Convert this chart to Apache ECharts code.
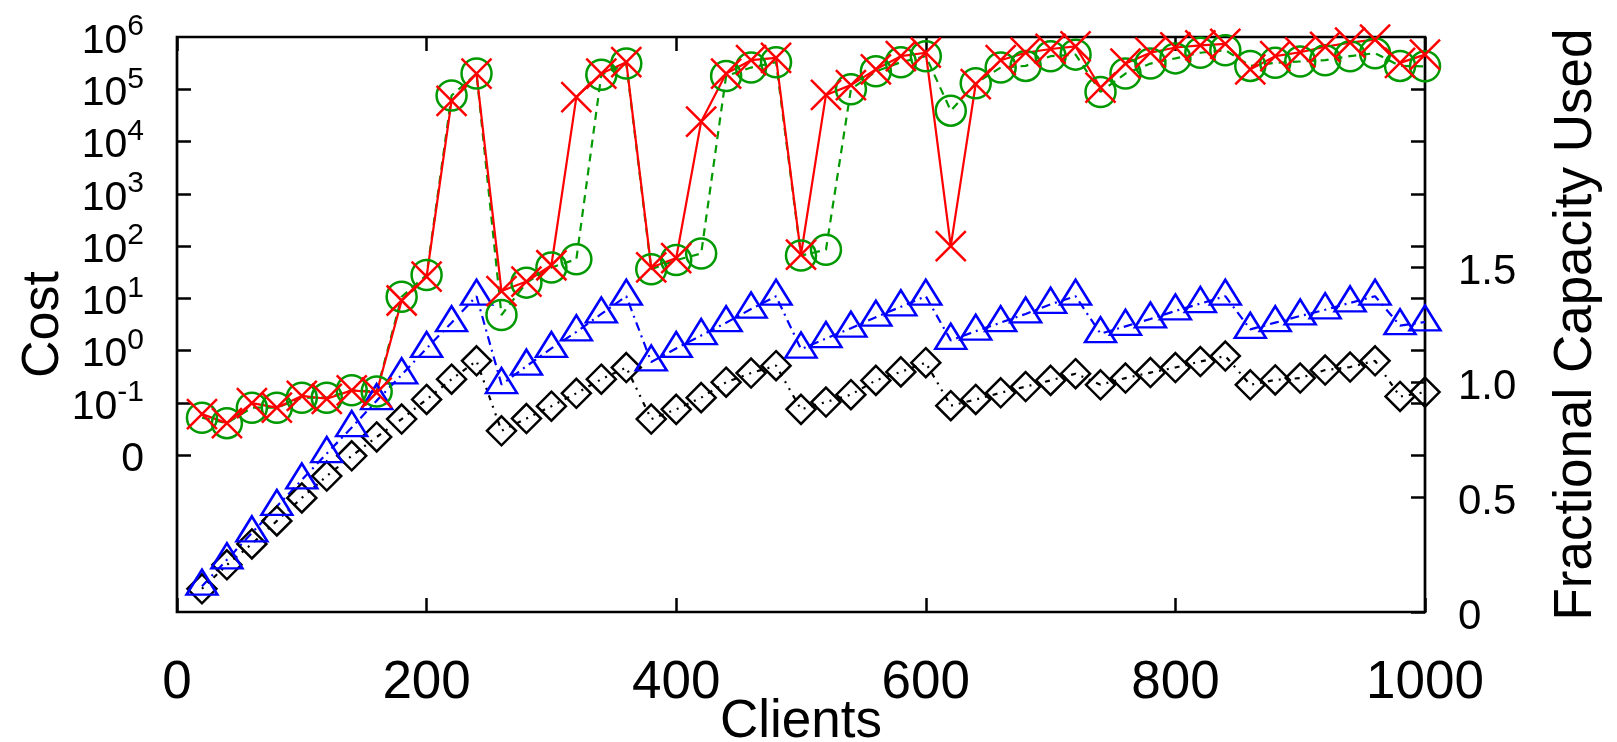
<!DOCTYPE html>
<html>
<head>
<meta charset="utf-8">
<script src="https://cdn.jsdelivr.net/npm/echarts@6/dist/echarts.min.js"></script>
<style>
  html, body { margin: 0; padding: 0; background: #fff; }
  #chart { width: 1617px; height: 742px; }
</style>
</head>
<body>
<div id="chart"></div>
<script>
// Number of clients at each measurement
const clients = [20, 40, 60, 80, 100, 120, 140, 160, 180, 200,
                 220, 240, 260, 280, 300, 320, 340, 360, 380, 400,
                 420, 440, 460, 480, 500, 520, 540, 560, 580, 600,
                 620, 640, 660, 680, 700, 720, 740, 760, 780, 800,
                 820, 840, 860, 880, 900, 920, 940, 960, 980, 1000];

// Cost (left axis, log scale)
const costSolid = [0.061, 0.041, 0.099, 0.081, 0.136, 0.12, 0.174, 0.158, 9.1, 26,
                   6.0e4, 2.0e5, 13.8, 21, 43, 7.1e4, 2.0e5, 3.3e5, 39, 59,
                   2.4e4, 2.0e5, 3.6e5, 4.0e5, 69, 7.8e4, 1.2e5, 2.4e5, 4.3e5, 5.0e5,
                   100, 1.26e5, 3.6e5, 5.0e5, 5.9e5, 6.6e5, 1.07e5, 3.1e5, 5.0e5, 6.3e5,
                   6.9e5, 7.4e5, 2.4e5, 4.3e5, 5.1e5, 6.5e5, 7.8e5, 8.9e5, 3.2e5, 4.6e5];
const costDashed = [0.052, 0.041, 0.081, 0.081, 0.126, 0.126, 0.174, 0.166, 10.7, 28,
                    7.6e4, 2.0e5, 4.8, 20, 39, 56, 1.9e5, 3.1e5, 36, 54,
                    72, 1.8e5, 2.6e5, 3.3e5, 66, 85, 1.0e5, 2.2e5, 3.3e5, 4.3e5,
                    3.9e4, 1.3e5, 2.6e5, 2.8e5, 4.3e5, 4.6e5, 8.9e4, 2.0e5, 3.1e5, 3.9e5,
                    5.0e5, 5.6e5, 2.8e5, 3.2e5, 3.4e5, 3.6e5, 4.3e5, 4.9e5, 2.8e5, 2.75e5];

// Fractional capacity used (right axis)
const capacityDashDot = [0.112, 0.227, 0.344, 0.459, 0.574, 0.689, 0.802, 0.919, 1.031, 1.146,
                         1.258, 1.373, 0.989, 1.069, 1.146, 1.218, 1.296, 1.373, 1.087, 1.146,
                         1.202, 1.258, 1.317, 1.373, 1.143, 1.189, 1.234, 1.282, 1.327, 1.373,
                         1.181, 1.221, 1.258, 1.296, 1.338, 1.373, 1.210, 1.242, 1.274, 1.309,
                         1.341, 1.373, 1.229, 1.258, 1.287, 1.314, 1.344, 1.373, 1.245, 1.261];
const capacityDotted = [0.101, 0.205, 0.296, 0.396, 0.496, 0.591, 0.679, 0.761, 0.839, 0.924,
                        1.012, 1.092, 0.788, 0.841, 0.895, 0.951, 1.012, 1.063, 0.839, 0.881,
                        0.932, 0.999, 1.039, 1.071, 0.881, 0.913, 0.945, 1.007, 1.044, 1.084,
                        0.897, 0.924, 0.953, 0.980, 1.007, 1.036, 0.988, 1.017, 1.041, 1.063,
                        1.089, 1.113, 0.988, 1.009, 1.017, 1.052, 1.065, 1.092, 0.937, 0.956];

// Axis ranges and tick positions
const COST_MIN = 1e-5, COST_MAX = 1e6;
const CAP_MIN = 0, CAP_MAX = 2.5;
const costTickValues = [0.01, 0.1, 1, 10, 100, 1e3, 1e4, 1e5];
const costLabelValues = [0.01, 0.1, 1, 10, 100, 1e3, 1e4, 1e5, 1e6];
const capacityLabelValues = [0, 0.5, 1.0, 1.5];

// The right border also carries the cost ticks (mirrored), expressed in capacity units
const logSpan = Math.log10(COST_MAX) - Math.log10(COST_MIN);
const mirroredCostTicks = costTickValues.map(v =>
  CAP_MIN + (CAP_MAX - CAP_MIN) * (Math.log10(v) - Math.log10(COST_MIN)) / logSpan);
const rightTickValues = capacityLabelValues.concat(mirroredCostTicks);

const FONT = '"Liberation Sans", Arial, Helvetica, sans-serif';
const tickStyle = { color: '#000', width: 2.5 };

function pairs(ys) {
  return clients.map((x, i) => [x, ys[i]]);
}

// The lowest labelled decade is shown as "0"; others as powers of ten
function costLabel(v) {
  const e = Math.round(Math.log10(v));
  if (e === -2) return '{b|0}';
  return '{b|10}{s|' + e + '}';
}

function capacityLabel(v) {
  return '{r|' + (v === 0 ? '0' : v.toFixed(1)) + '}';
}

const crossPath = 'path://M0,0L10,10M10,0L0,10';

const chart = echarts.init(document.getElementById('chart'), null, { renderer: 'canvas' });
chart.setOption({
  animation: false,
  backgroundColor: '#fff',
  grid: {
    left: 177, right: 192, top: 37, bottom: 130,
    outerBoundsMode: 'none', containLabel: false,
    show: true, borderColor: '#000', borderWidth: 2.7, backgroundColor: 'transparent'
  },
  xAxis: [
    {
      type: 'value', min: 0, max: 1000, interval: 200, position: 'bottom',
      name: 'Clients', nameLocation: 'middle', nameGap: 84, nameMoveOverlap: false,
      nameTextStyle: { fontFamily: FONT, fontSize: 53, color: '#000' },
      axisLine: { show: false, onZero: false },
      axisTick: { inside: true, length: 14, lineStyle: tickStyle },
      axisLabel: { fontFamily: FONT, fontSize: 53, color: '#000', margin: 45, formatter: v => String(v) },
      splitLine: { show: false }
    },
    {
      type: 'value', min: 0, max: 1000, interval: 200, position: 'top',
      axisLine: { show: false, onZero: false },
      axisTick: { inside: true, length: 14, lineStyle: tickStyle },
      axisLabel: { show: false },
      splitLine: { show: false }
    }
  ],
  yAxis: [
    {
      type: 'log', logBase: 10, min: COST_MIN, max: COST_MAX, position: 'left',
      name: 'Cost', nameLocation: 'middle', nameRotate: 90, nameGap: 107, nameMoveOverlap: false,
      nameTextStyle: { fontFamily: FONT, fontSize: 52, color: '#000' },
      axisLine: { show: false, onZero: false },
      axisTick: { customValues: costTickValues, inside: true, length: 14, lineStyle: tickStyle },
      axisLabel: {
        customValues: costLabelValues, margin: 33, formatter: costLabel,
        showMaxLabel: true, showMinLabel: true,
        rich: {
          b: { fontFamily: FONT, fontSize: 41, color: '#000', lineHeight: 50, verticalAlign: 'bottom' },
          s: { fontFamily: FONT, fontSize: 30, color: '#000', verticalAlign: 'top' }
        }
      },
      splitLine: { show: false },
      minorTick: { show: false }
    },
    {
      type: 'value', min: CAP_MIN, max: CAP_MAX, position: 'right',
      name: 'Fractional Capacity Used', nameLocation: 'middle', nameRotate: 90, nameGap: 125,
      nameMoveOverlap: false,
      nameTextStyle: { fontFamily: FONT, fontSize: 53, color: '#000' },
      axisLine: { show: false, onZero: false },
      axisTick: { customValues: rightTickValues, inside: true, length: 14, lineStyle: tickStyle },
      axisLabel: {
        customValues: capacityLabelValues, margin: 33, formatter: capacityLabel,
        showMaxLabel: true, showMinLabel: true,
        rich: {
          r: { fontFamily: FONT, fontSize: 42, color: '#000', padding: [10, 0, 0, 0] }
        }
      },
      splitLine: { show: false }
    }
  ],
  series: [
    {
      type: 'line', xAxisIndex: 0, yAxisIndex: 1, data: pairs(capacityDotted),
      symbol: 'diamond', symbolSize: [29, 29],
      itemStyle: { color: 'none', borderColor: '#000', borderWidth: 2.5 },
      lineStyle: { color: '#000', width: 2.2, type: [2, 6, 2, 6, 5, 6] },
      emphasis: { disabled: true }
    },
    {
      type: 'line', xAxisIndex: 0, yAxisIndex: 1, data: pairs(capacityDashDot),
      symbol: 'triangle', symbolSize: [31, 25], symbolOffset: [0, -4],
      itemStyle: { color: 'none', borderColor: '#0000ff', borderWidth: 2.5 },
      lineStyle: { color: '#0000ff', width: 2.2, type: [9, 5, 2, 5] },
      emphasis: { disabled: true }
    },
    {
      type: 'line', xAxisIndex: 0, yAxisIndex: 0, data: pairs(costDashed),
      symbol: 'circle', symbolSize: 30,
      itemStyle: { color: 'none', borderColor: '#009900', borderWidth: 2.5 },
      lineStyle: { color: '#009900', width: 2.2, type: [8, 6] },
      emphasis: { disabled: true }
    },
    {
      type: 'line', xAxisIndex: 0, yAxisIndex: 0, data: pairs(costSolid),
      symbol: crossPath, symbolSize: 30,
      itemStyle: { color: 'none', borderColor: '#ff0000', borderWidth: 2.5 },
      lineStyle: { color: '#ff0000', width: 2.2 },
      emphasis: { disabled: true }
    }
  ]
});
</script>
</body>
</html>
